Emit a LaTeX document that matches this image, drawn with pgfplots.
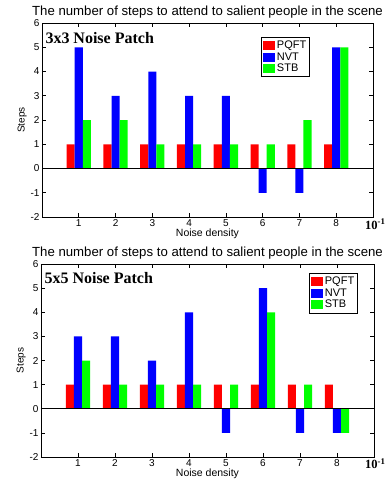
\documentclass[border=0pt]{standalone}
\usepackage{fontspec}
\setmainfont{Liberation Sans}
\newfontfamily\tnr{Liberation Serif}
\usepackage{pgfplots}
\pgfplotsset{compat=1.18}
\definecolor{mgreen}{rgb}{0,1,0}
\definecolor{mblue}{rgb}{0,0,1}
\definecolor{mred}{rgb}{1,0,0}
\pgfplotsset{
  mystyle/.style={
    scale only axis,
    clip=false,
    ybar,
    bar width=0.22,
    xmin=0, xmax=9, ymin=-2, ymax=6,
    xtick={1,2,3,4,5,6,7,8},
    ytick={-2,-1,0,1,2,3,4,5,6},
    tick align=inside,
    xtick pos=both, ytick pos=both,
    major tick length=4pt,
    tick style={black, line width=0.6pt},
    axis line style={black, line width=0.9pt},
    /pgf/number format/assume math mode=true,
    ticklabel style={font=\fontsize{10}{11}\selectfont},
    yticklabel style={xshift=1pt},
    xticklabel style={yshift=1pt},
    xlabel={Noise density},
    ylabel={Steps},
    xlabel style={font=\fontsize{10.5}{11}\selectfont, yshift=5pt},
    ylabel style={font=\fontsize{10}{11}\selectfont, yshift=-3pt},
    title={The number of steps to attend to salient people in the scene},
    title style={font=\fontsize{13.2}{15}\selectfont, at={(0.5,1)}, anchor=south, yshift=-5pt},
    legend cell align=left,
    legend style={font=\fontsize{11}{12}\selectfont, draw=black, line width=0.7pt, inner sep=1.5pt, row sep=-1.5pt,
      /tikz/every even column/.append style={column sep=1pt}},
    area legend,
    legend image code/.code={\fill[##1] (0pt,-4.5pt) rectangle (12pt,4.5pt);},
  }
}
\begin{document}
\begin{tikzpicture}
\useasboundingbox (0,0) rectangle (387pt,-480pt);
\begin{axis}[mystyle, at={(42pt,-217pt)}, anchor=south west, width=331pt, height=194pt,
  legend style={at={(0.662,0.928)}, anchor=north west}]
\addplot[fill=mred, draw=none, bar shift=-0.22] coordinates {(1,1) (2,1) (3,1) (4,1) (5,1) (6,1) (7,1) (8,1)};
\addplot[fill=mblue, draw=none, bar shift=0] coordinates {(1,5) (2,3) (3,4) (4,3) (5,3) (6,-1) (7,-1) (8,5)};
\addplot[fill=mgreen, draw=none, bar shift=0.22] coordinates {(1,2) (2,2) (3,1) (4,1) (5,1) (6,1) (7,2) (8,5)};
\legend{PQFT,NVT,STB}
\draw[black, line width=1.3pt] (axis cs:0,0) -- (axis cs:9,0);
\node[anchor=north west, font=\tnr\bfseries\fontsize{16}{17}\selectfont, inner sep=0pt] at (rel axis cs:0.01,0.955) {3x3 Noise Patch};
\node[anchor=base west, font=\tnr\bfseries\fontsize{12.5}{14}\selectfont, inner sep=0pt] at (rel axis cs:0.976,-0.062) {10\textsuperscript{-1}};
\end{axis}
\begin{axis}[mystyle, at={(41pt,-457pt)}, anchor=south west, width=333pt, height=193pt,
  legend style={at={(0.805,0.953)}, anchor=north west}]
\addplot[fill=mred, draw=none, bar shift=-0.22] coordinates {(1,1) (2,1) (3,1) (4,1) (5,1) (6,1) (7,1) (8,1)};
\addplot[fill=mblue, draw=none, bar shift=0] coordinates {(1,3) (2,3) (3,2) (4,4) (5,-1) (6,5) (7,-1) (8,-1)};
\addplot[fill=mgreen, draw=none, bar shift=0.22] coordinates {(1,2) (2,1) (3,1) (4,1) (5,1) (6,4) (7,1) (8,-1)};
\legend{PQFT,NVT,STB}
\draw[black, line width=1.3pt] (axis cs:0,0) -- (axis cs:9,0);
\node[anchor=north west, font=\tnr\bfseries\fontsize{16}{17}\selectfont, inner sep=0pt] at (rel axis cs:0.01,0.955) {5x5 Noise Patch};
\node[anchor=base west, font=\tnr\bfseries\fontsize{12.5}{14}\selectfont, inner sep=0pt] at (rel axis cs:0.973,-0.06) {10\textsuperscript{-1}};
\end{axis}
\end{tikzpicture}
\end{document}
